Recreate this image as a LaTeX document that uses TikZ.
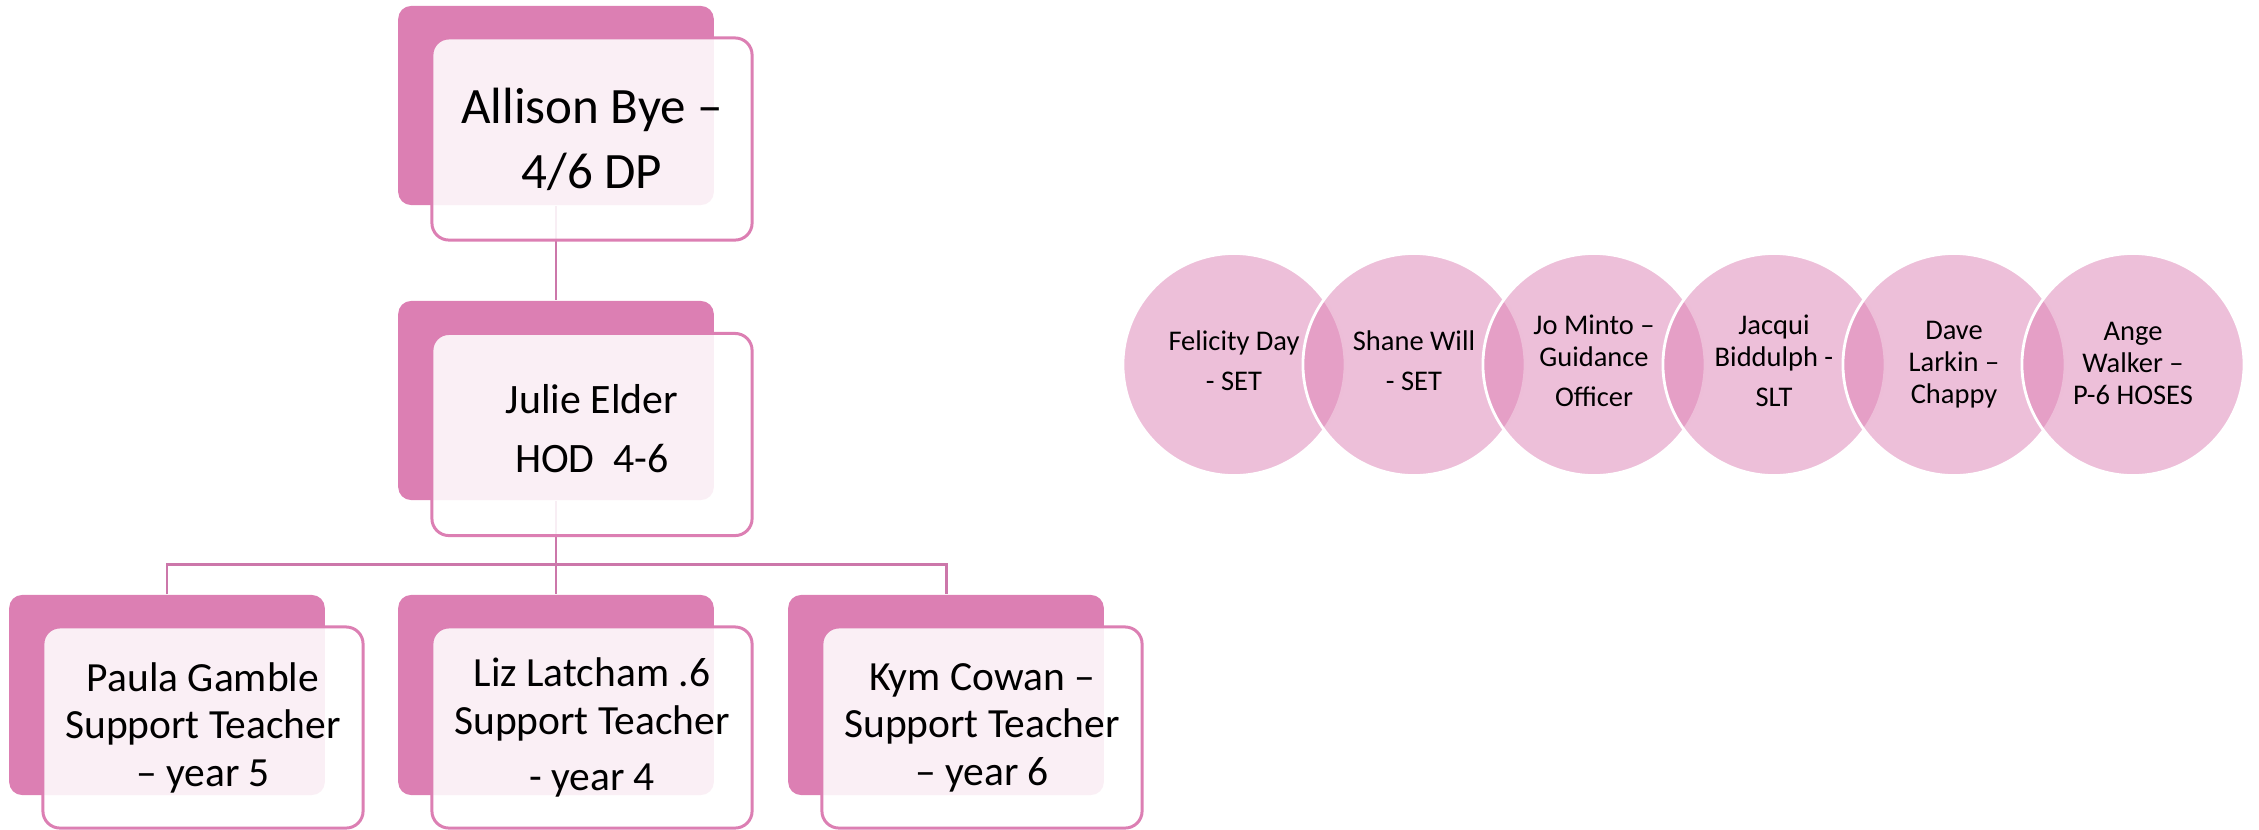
\documentclass[tikz,border=0pt]{standalone}
\usepackage{fontspec}
\setmainfont{Carlito}
\definecolor{accent}{HTML}{DC7FB3}
\definecolor{linec}{HTML}{CC77AA}
\tikzset{
  x=0.01cm, y=-0.01cm,
  backbox/.style={rectangle, fill=accent, draw=none, rounded corners=0.13cm, inner sep=0pt, minimum width=3.155cm, minimum height=1.99cm},
  frontbox/.style={rectangle, fill=white, fill opacity=0.88, text opacity=1, draw=accent, line width=0.85pt, rounded corners=0.17cm, inner sep=0pt, minimum width=3.2cm, minimum height=2.02cm},
  conn/.style={draw=linec, line width=0.85pt},
  venn/.style={circle, minimum size=2.22cm, inner sep=0pt, fill=accent, fill opacity=0.5, text opacity=1, draw=white, line width=0.8pt, align=center, font=\fontsize{8.1}{9.1}\selectfont},
  lvlone/.style={align=center, font=\fontsize{14.5}{18.5}\selectfont},
  lvltwo/.style={align=center, font=\fontsize{11.9}{16.8}\selectfont},
  lvlthree/.style={align=center, font=\fontsize{11.8}{13.5}\selectfont}
}
\begin{document}
\begin{tikzpicture}
\useasboundingbox (0,0) rectangle (2259,829);
% back boxes
\node[backbox] (tb) at (556,105.5) {};
\node[backbox] (mb) at (556,400.5) {};
\node[backbox, minimum height=2.0cm] (b1) at (167,695) {};
\node[backbox, minimum height=2.0cm] (b2) at (556,695) {};
\node[backbox, minimum height=2.0cm] (b3) at (946,695) {};
% connectors
\coordinate (j) at (556,564);
\draw[conn] (tb.south) -- (mb.north);
\draw[conn] (mb.south) -- (j) -- (b2.north);
\draw[conn] (b1.north) |- (j) -| (b3.north);
% front boxes with text
\node[frontbox, lvlone] (top) at (592,139) {Allison Bye –\\4/6 DP};
\node[frontbox, lvltwo, text depth=3.7pt] (hod) at (592,434.5) {Julie Elder\\HOD~~4-6};
\node[frontbox, lvlthree, minimum height=2.01cm] (paula) at (203,727.5) {Paula Gamble\\Support Teacher\\– year 5};
\node[frontbox, lvlthree, minimum height=2.01cm] (liz) at (592,727.5) {Liz Latcham .6\\Support Teacher\\[2.6pt]- year 4};
\node[frontbox, lvlthree, minimum height=2.01cm] (kym) at (982,727.5) {Kym Cowan –\\Support Teacher\\– year 6};
% venn circles
\node[venn, text depth=2.3pt] (c1) at (1234,364.5) {Felicity Day\\[2.4pt]- SET};
\node[venn, text depth=2.3pt] (c2) at (1414,364.5) {Shane Will\\[2.4pt]- SET};
\node[venn, text depth=2.3pt] (c3) at (1594,364.5) {Jo Minto –\\Guidance\\[2.4pt]Officer};
\node[venn, text depth=2.3pt] (c4) at (1774,364.5) {Jacqui\\Biddulph -\\[2.4pt]SLT};
\node[venn] (c5) at (1954,364.5) {Dave\\Larkin –\\Chappy};
\node[venn, text depth=0.6pt] (c6) at (2133,364.5) {Ange\\Walker –\\P-6 HOSES};
\end{tikzpicture}
\end{document}
